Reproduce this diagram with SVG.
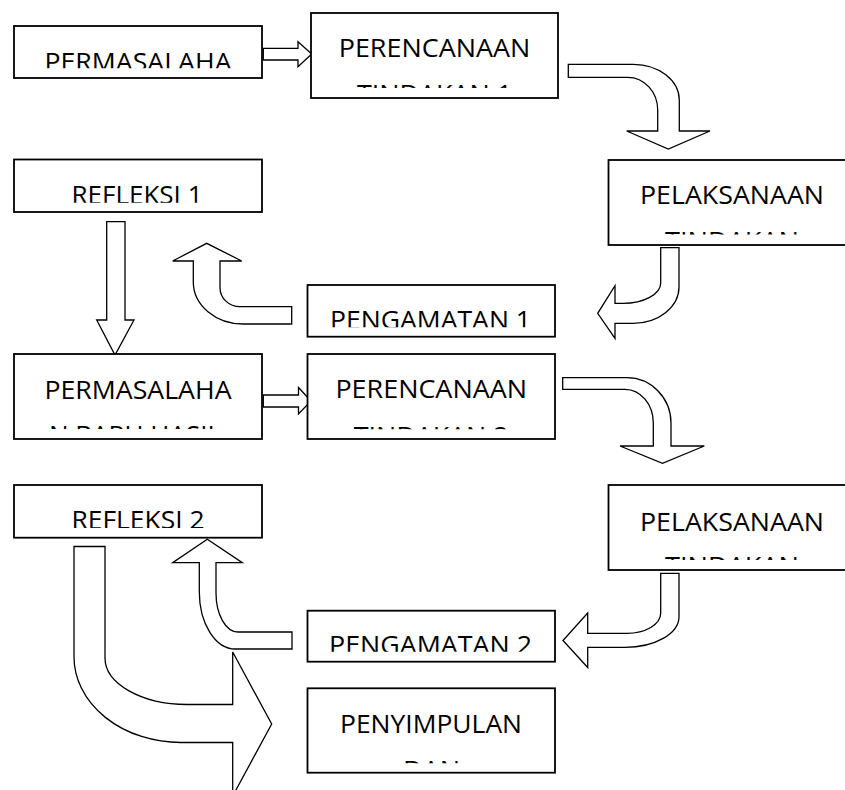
<svg xmlns="http://www.w3.org/2000/svg" width="845" height="790" viewBox="0 0 845 790">
<style>
.box{fill:#fff;stroke:#000;stroke-width:1.8}
.arr{fill:#fff;stroke:#000;stroke-width:1.3;stroke-linejoin:miter}
.t{font-family:"Open Sans","Liberation Sans",sans-serif;font-size:25.8px;fill:#000;text-anchor:middle}
</style>
<defs>
<clipPath id="c1" clipPathUnits="userSpaceOnUse"><rect x="14" y="26" width="248" height="42.3"/></clipPath>
<clipPath id="c2" clipPathUnits="userSpaceOnUse"><rect x="311" y="13" width="247" height="75"/></clipPath>
<clipPath id="c3" clipPathUnits="userSpaceOnUse"><rect x="608.5" y="160" width="247" height="74.5"/></clipPath>
<clipPath id="c4" clipPathUnits="userSpaceOnUse"><rect x="14" y="159.5" width="248" height="43.2"/></clipPath>
<clipPath id="c5" clipPathUnits="userSpaceOnUse"><rect x="307.5" y="285" width="247.5" height="42.3"/></clipPath>
<clipPath id="c6" clipPathUnits="userSpaceOnUse"><rect x="14" y="354" width="248" height="75"/></clipPath>
<clipPath id="c7" clipPathUnits="userSpaceOnUse"><rect x="307.5" y="354" width="247.5" height="75.3"/></clipPath>
<clipPath id="c8" clipPathUnits="userSpaceOnUse"><rect x="608.5" y="485" width="247" height="75"/></clipPath>
<clipPath id="c9" clipPathUnits="userSpaceOnUse"><rect x="14" y="485" width="248" height="43"/></clipPath>
<clipPath id="c10" clipPathUnits="userSpaceOnUse"><rect x="307.5" y="610.7" width="247.5" height="41"/></clipPath>
<clipPath id="c11" clipPathUnits="userSpaceOnUse"><rect x="307.5" y="688.3" width="247.5" height="75"/></clipPath>
</defs>
<rect width="845" height="790" fill="#fff"/>

<g id="connectors">
<path class="arr" d="M263.3,48.3 H298 V41.7 L311.7,54 L298,66.7 V60 H263.3 Z"/>
<path class="arr" d="M568.3,64.3 H633.3 A46,36 0 0 1 679.3,100.3 V131 H710 L668.3,149 L626.7,131 H657.7 V110 A30,32.7 0 0 0 627.7,77.3 H568.3 Z"/>
<path class="arr" d="M660.7,247.7 H679 V287 A46,36.3 0 0 1 633,323.3 H615 V338.3 L597.7,313.3 L615,285.7 V303.3 H623 A37.7,20.3 0 0 0 660.7,283 Z"/>
<path class="arr" d="M291.7,306.7 H240 A20,19 0 0 1 220,287.7 V261 H241.7 L206.7,243.3 L172.7,261 H193.3 V282 A50,42 0 0 0 243.3,324 H291.7 Z"/>
<path class="arr" d="M106.7,221.7 H125 V320 H134 L115,355 L96.7,320 H106.7 Z"/>
<path class="arr" d="M263.3,395 H298.5 V387.5 L311,401 L298.5,414 V407 H263.3 Z"/>
<path class="arr" d="M562.7,377.7 H626.7 A44.3,45.3 0 0 1 671,423 V446 H704.3 L662.5,463.3 L620,446 H653.3 V423 A28.3,33.7 0 0 0 625,389.3 H562.7 Z"/>
<path class="arr" d="M660.7,573.3 H679 V616.7 A54,30.6 0 0 1 625,647.3 H587.7 V667.5 L563,640.5 L587.7,613 V633.3 H626.7 A34,20 0 0 0 660.7,613.3 Z"/>
<path class="arr" d="M292,632 H238 A22,39 0 0 1 216,593 V562.7 H242.3 L207.3,539.3 L172.7,562.7 H199.3 V592 A36,57 0 0 0 235.3,649 H292 Z"/>
<path class="arr" d="M74,546.5 H105 V658 A82,46.5 0 0 0 187,704.5 H232.7 V652 L271.7,724 L232.7,796 V742.5 H181 A107,85.8 0 0 1 74,656.7 Z"/>
</g>

<g id="n1">
<rect class="box" x="14" y="26" width="248" height="52"/>
<g clip-path="url(#c1)"><text class="t" x="138" y="70.8" textLength="187" lengthAdjust="spacingAndGlyphs">PERMASALAHA</text></g>
</g>
<g id="n2">
<rect class="box" x="311" y="13" width="247" height="85"/>
<g clip-path="url(#c2)"><text class="t" x="434.5" y="57" textLength="191.6" lengthAdjust="spacingAndGlyphs">PERENCANAAN</text><text class="t" x="434.5" y="102.5" textLength="155" lengthAdjust="spacingAndGlyphs">TINDAKAN 1</text></g>
</g>
<g id="n3">
<rect class="box" x="608.5" y="160" width="247" height="85"/>
<g clip-path="url(#c3)"><text class="t" x="732" y="204.2" textLength="184" lengthAdjust="spacingAndGlyphs">PELAKSANAAN</text><text class="t" x="732" y="249.8" textLength="134" lengthAdjust="spacingAndGlyphs">TINDAKAN</text></g>
</g>
<g id="n4">
<rect class="box" x="14" y="159.5" width="248" height="52.5"/>
<g clip-path="url(#c4)"><text class="t" x="137" y="204.2" textLength="131" lengthAdjust="spacingAndGlyphs">REFLEKSI 1</text></g>
</g>
<g id="n5">
<rect class="box" x="307.5" y="285" width="247.5" height="51.7"/>
<g clip-path="url(#c5)"><text class="t" x="430.5" y="328.5" textLength="201" lengthAdjust="spacingAndGlyphs">PENGAMATAN 1</text></g>
</g>
<g id="n6">
<rect class="box" x="14" y="354" width="248" height="85"/>
<g clip-path="url(#c6)"><text class="t" x="138" y="398.5" textLength="187" lengthAdjust="spacingAndGlyphs">PERMASALAHA</text><text class="t" x="135" y="444" textLength="172" lengthAdjust="spacingAndGlyphs">N BARU HASIL</text></g>
</g>
<g id="n7">
<rect class="box" x="307.5" y="354" width="247.5" height="85"/>
<g clip-path="url(#c7)"><text class="t" x="431.2" y="398.3" textLength="191.6" lengthAdjust="spacingAndGlyphs">PERENCANAAN</text><text class="t" x="431.2" y="444.8" textLength="155" lengthAdjust="spacingAndGlyphs">TINDAKAN 2</text></g>
</g>
<g id="n8">
<rect class="box" x="608.5" y="485" width="247" height="85"/>
<g clip-path="url(#c8)"><text class="t" x="732" y="530.5" textLength="184" lengthAdjust="spacingAndGlyphs">PELAKSANAAN</text><text class="t" x="732" y="575" textLength="134" lengthAdjust="spacingAndGlyphs">TINDAKAN</text></g>
</g>
<g id="n9">
<rect class="box" x="14" y="485" width="248" height="52.7"/>
<g clip-path="url(#c9)"><text class="t" x="138" y="529.2" textLength="133" lengthAdjust="spacingAndGlyphs">REFLEKSI 2</text></g>
</g>
<g id="n10">
<rect class="box" x="307.5" y="610.7" width="247.5" height="51"/>
<g clip-path="url(#c10)"><text class="t" x="430.5" y="654.2" textLength="203" lengthAdjust="spacingAndGlyphs">PENGAMATAN 2</text></g>
</g>
<g id="n11">
<rect class="box" x="307.5" y="688.3" width="247.5" height="84.4"/>
<g clip-path="url(#c11)"><text class="t" x="431" y="732.5" textLength="182" lengthAdjust="spacingAndGlyphs">PENYIMPULAN</text><text class="t" x="431.5" y="778.5" textLength="57" lengthAdjust="spacingAndGlyphs">DAN</text></g>
</g>
</svg>
